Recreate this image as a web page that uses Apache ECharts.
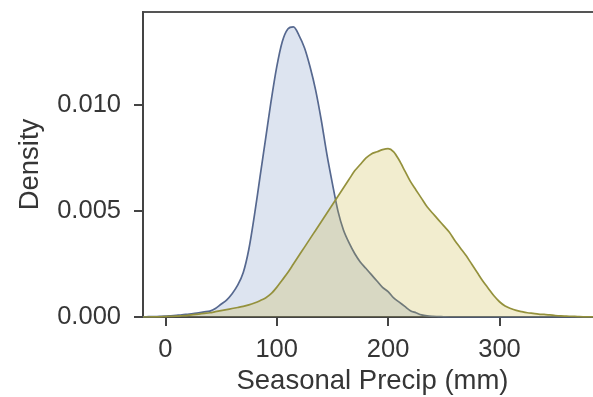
<!DOCTYPE html>
<html>
<head>
<meta charset="utf-8">
<script src="https://cdn.jsdelivr.net/npm/echarts@6/dist/echarts.min.js"></script>
<style>
  html, body { margin: 0; padding: 0; background: #fff; }
  #chart { width: 593px; height: 397px; }
</style>
</head>
<body>
<div id="chart"></div>
<script>
// Kernel density estimates of seasonal precipitation (mm) for two groups
const precipGrid = [
  -20, -15, -10, -5, 0, 5, 10, 15, 20, 25, 30, 35, 40, 45, 50, 55, 60, 65, 70, 75,
  80, 85, 90, 95, 100, 105, 110, 115, 120, 125, 130, 135, 140, 145, 150, 155, 160, 165, 170, 175,
  180, 185, 190, 195, 200, 205, 210, 215, 220, 225, 230, 235, 240, 245, 250, 255, 260, 265, 270, 275,
  280, 285, 290, 295, 300, 305, 310, 315, 320, 325, 330, 335, 340, 345, 350, 355, 360, 365, 370, 375,
  380, 385, 390
];
const densityBlue = [
  0.00001, 0.000015, 0.00002, 0.00003, 0.00004, 0.00006, 0.00008, 0.0001, 0.00013, 0.00016,
  0.0002, 0.00024, 0.00028, 0.0004, 0.0006, 0.0008, 0.0011, 0.0015, 0.0021, 0.0032,
  0.0048, 0.0066, 0.0084, 0.0102, 0.0118, 0.0130, 0.0136, 0.0137, 0.0133, 0.0127,
  0.0118, 0.0107, 0.0093, 0.0077, 0.0063, 0.0050, 0.0041, 0.0035, 0.0030, 0.0026,
  0.0023, 0.0020, 0.0017, 0.0014, 0.0012, 0.0009, 0.0007, 0.0005, 0.0003, 0.0002,
  0.0001, 0.00005, 0.00003, 0.00002, 0.00001, 0, 0, 0, 0, 0,
  0, 0, 0, 0, 0, 0, 0, 0, 0, 0,
  0, 0, 0, 0, 0, 0, 0, 0, 0, 0,
  0, 0, 0
];
const densityOlive = [
  0, 0, 0.00001, 0.00001, 0.00002, 0.00003, 0.00004, 0.00006, 0.00008, 0.00011,
  0.00014, 0.00017, 0.0002, 0.00025, 0.0003, 0.00035, 0.0004, 0.00045, 0.0005, 0.00057,
  0.00066, 0.00077, 0.0009, 0.0011, 0.0014, 0.00175, 0.0021, 0.0025, 0.0029, 0.0033,
  0.0037, 0.0041, 0.0045, 0.0049, 0.0053, 0.0057, 0.0061, 0.0065, 0.0069, 0.0072,
  0.0075, 0.0077, 0.0078, 0.0079, 0.00795, 0.0078, 0.0074, 0.0069, 0.0064, 0.0060,
  0.0056, 0.0052, 0.0049, 0.0046, 0.0043, 0.0040, 0.0036, 0.00325, 0.0029, 0.0025,
  0.0021, 0.0017, 0.00135, 0.001, 0.00072, 0.00052, 0.0004, 0.00031, 0.00025, 0.0002,
  0.00017, 0.00014, 0.00012, 0.0001, 0.00007, 0.00005, 0.00004, 0.00003, 0.00002, 0.00001,
  0.00001, 0, 0
];
const xTicks = [0, 100, 200, 300];
const yTicks = [0, 0.005, 0.010];

const pairs = ys => precipGrid.map((x, i) => [x, ys[i]]);
const FONT = 'Liberation Sans';
const TEXT = '#363636';
const AXIS = '#444';

const chart = echarts.init(document.getElementById('chart'));
chart.setOption({
  animation: false,
  backgroundColor: '#fff',
  grid: {
    left: 143, top: 12, bottom: 80, right: -9,
    outerBoundsMode: 'none', containLabel: false,
    show: true, borderColor: '#555', borderWidth: 2, backgroundColor: 'transparent'
  },
  xAxis: {
    type: 'value', min: -20, max: 392,
    name: 'Seasonal Precip (mm)', nameLocation: 'middle', nameGap: 50,
    nameTextStyle: { fontFamily: FONT, fontSize: 27.5, color: TEXT },
    splitLine: { show: false },
    axisLine: { show: true, onZero: false, lineStyle: { color: AXIS, width: 2 } },
    axisTick: { show: true, length: 9, customValues: xTicks, lineStyle: { color: AXIS, width: 2 } },
    axisLabel: { customValues: xTicks, margin: 20, fontFamily: FONT, fontSize: 25.5, color: TEXT }
  },
  yAxis: {
    type: 'value', min: 0, max: 0.0144,
    name: 'Density', nameLocation: 'middle', nameGap: 99,
    nameTextStyle: { fontFamily: FONT, fontSize: 27.5, color: TEXT },
    splitLine: { show: false },
    axisLine: { show: true, onZero: false, lineStyle: { color: AXIS, width: 2 } },
    axisTick: { show: true, length: 9, customValues: yTicks, lineStyle: { color: AXIS, width: 2 } },
    axisLabel: {
      customValues: yTicks, margin: 22, fontFamily: FONT, fontSize: 25.5, color: TEXT,
      formatter: v => v.toFixed(3)
    }
  },
  series: [
    {
      type: 'line', data: pairs(densityBlue), smooth: 0.3, symbol: 'none',
      lineStyle: { color: '#56688f', width: 1.7 },
      areaStyle: { color: 'rgba(76,114,176,0.27)' },
      z: 2
    },
    {
      type: 'line', data: pairs(densityOlive), smooth: 0.3, symbol: 'none',
      lineStyle: { color: '#94913c', width: 1.7 },
      areaStyle: { color: 'rgba(200,178,55,0.34)' },
      z: 3
    }
  ]
});
</script>
</body>
</html>
